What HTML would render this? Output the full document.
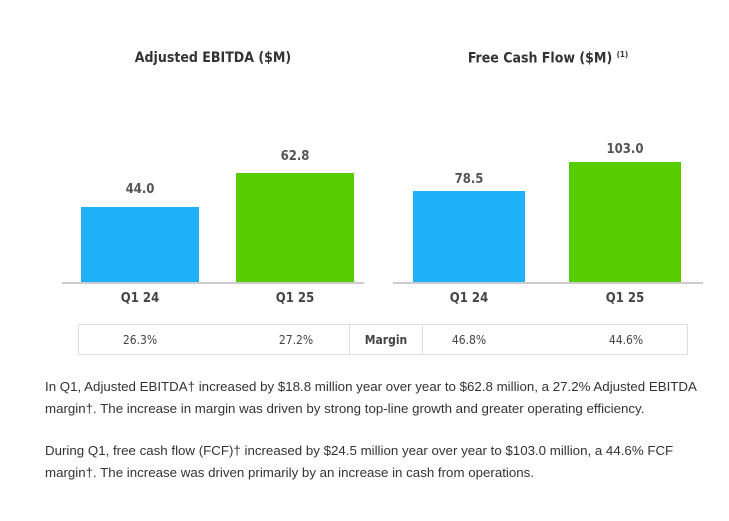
<!DOCTYPE html>
<html><head><style>
body{margin:0;width:729px;height:521px;background:#fff;font-family:"DejaVu Sans Condensed","Liberation Sans",sans-serif;color:#333;position:relative;overflow:hidden}
div{position:absolute}
.t{font-weight:bold;font-size:14px;color:#333;text-align:center}
.v{font-weight:bold;font-size:13px;color:#555;text-align:center;width:120px}
.q{font-weight:bold;font-size:13px;color:#444;text-align:center;width:120px}
.p{font-size:13.3px;color:#333;left:45px;width:680px;line-height:22px;font-family:"Liberation Sans",sans-serif}
.c{font-size:12px;color:#444;text-align:center;top:333px}
</style></head><body>
<div class="t" style="left:62px;width:302px;top:50px">Adjusted EBITDA ($M)</div>
<div class="t" style="left:393px;width:310px;top:50px">Free Cash Flow ($M) <sup style="font-size:8px">(1)</sup></div>
<div style="left:62px;top:282px;width:302px;height:2px;background:#ccc"></div>
<div style="left:393px;top:282px;width:310px;height:2px;background:#ccc"></div>
<div style="left:81px;top:207px;width:118px;height:75px;background:#1eb0f8"></div>
<div style="left:236px;top:173px;width:118px;height:109px;background:#57cc00"></div>
<div style="left:413px;top:191px;width:112px;height:91px;background:#1eb0f8"></div>
<div style="left:569px;top:162px;width:112px;height:120px;background:#57cc00"></div>
<div class="v" style="left:80px;top:182px">44.0</div>
<div class="v" style="left:235px;top:149px">62.8</div>
<div class="v" style="left:409px;top:172px">78.5</div>
<div class="v" style="left:565px;top:142px">103.0</div>
<div class="q" style="left:80px;top:291px">Q1 24</div>
<div class="q" style="left:235px;top:291px">Q1 25</div>
<div class="q" style="left:409px;top:291px">Q1 24</div>
<div class="q" style="left:565px;top:291px">Q1 25</div>
<div style="left:78px;top:324px;width:608px;height:29px;border:1px solid #ddd"></div>
<div style="left:349px;top:325px;width:1px;height:29px;background:#ddd"></div>
<div style="left:422px;top:325px;width:1px;height:29px;background:#ddd"></div>
<div class="c" style="left:80px;width:120px">26.3%</div>
<div class="c" style="left:236px;width:120px">27.2%</div>
<div class="c" style="left:350px;width:72px;font-weight:bold">Margin</div>
<div class="c" style="left:409px;width:120px">46.8%</div>
<div class="c" style="left:566px;width:120px">44.6%</div>
<div class="p" style="top:376px">In Q1, Adjusted EBITDA† increased by $18.8 million year over year to $62.8 million, a 27.2% Adjusted EBITDA margin†. The increase in margin was driven by strong top-line growth and greater operating efficiency.</div>
<div class="p" style="top:440px">During Q1, free cash flow (FCF)† increased by $24.5 million year over year to $103.0 million, a 44.6% FCF margin†. The increase was driven primarily by an increase in cash from operations.</div>
</body></html>
